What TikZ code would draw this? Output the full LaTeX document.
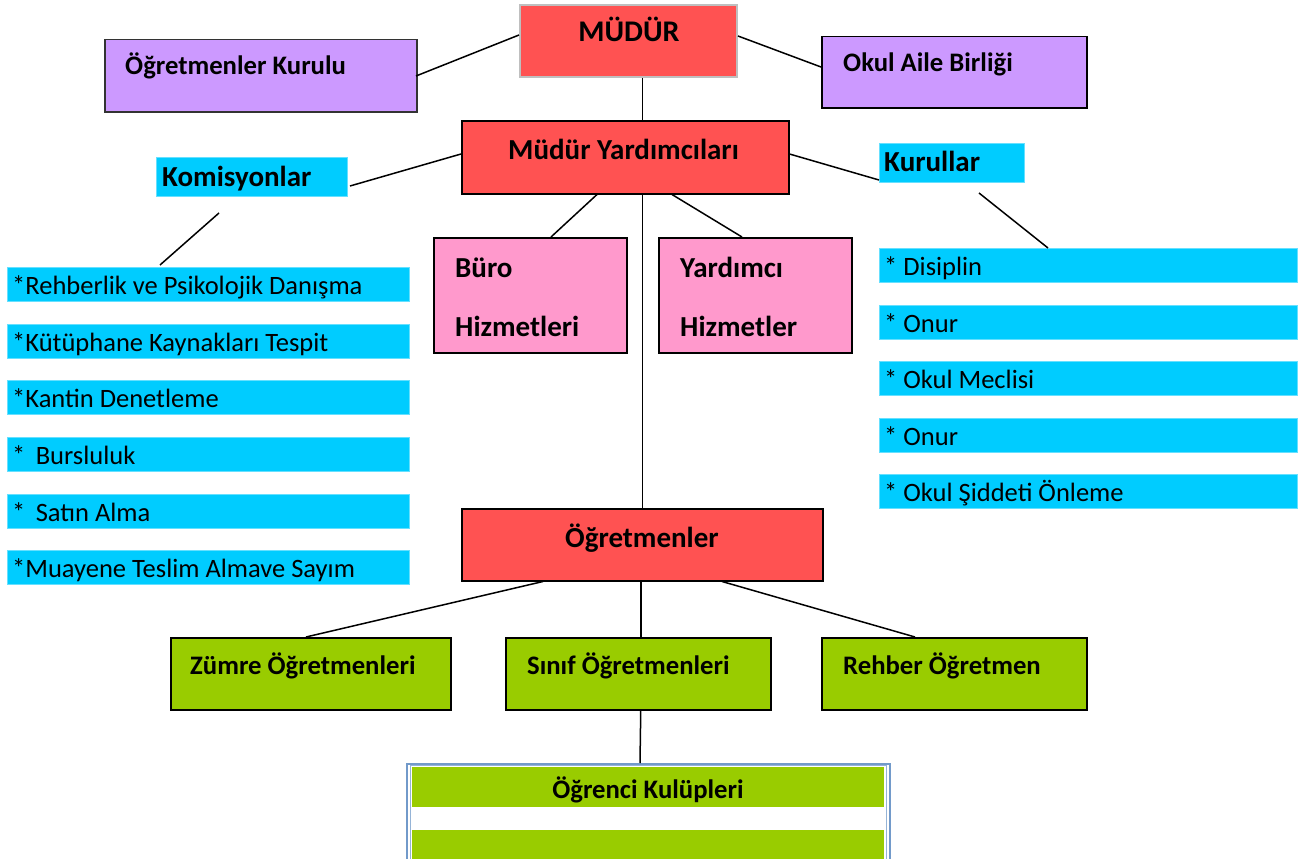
\documentclass[tikz,border=0pt]{standalone}
\usepackage{fontspec}
\setmainfont{Carlito}
\usetikzlibrary{calc}
\definecolor{cred}{HTML}{FF5252}
\definecolor{cpurple}{HTML}{CC99FF}
\definecolor{ccyan}{HTML}{00CCFF}
\definecolor{cpink}{HTML}{FF99CC}
\definecolor{cgreen}{HTML}{99CC00}
\definecolor{cblue}{HTML}{4F81BD}
\definecolor{cgray}{HTML}{BFBFBF}
\tikzset{
  box/.style={rectangle, inner sep=0pt, anchor=north west, line width=1.5pt, draw=black},
  redbox/.style={box, fill=cred},
  purplebox/.style={box, fill=cpurple},
  pinkbox/.style={box, fill=cpink},
  greenbox/.style={box, fill=cgreen},
  cyanbox/.style={rectangle, inner sep=0pt, anchor=north west, fill=ccyan, draw=ccyan!60, line width=0.5pt},
  btxt/.style={anchor=base west, inner sep=0pt, font=\fontsize{26.7}{30}\selectfont\bfseries},
  bigtxt/.style={anchor=base west, inner sep=0pt, font=\fontsize{29}{32}\selectfont\bfseries},
  ltxt/.style={anchor=base west, inner sep=0pt, font=\fontsize{26.5}{30}\selectfont},
  conn/.style={draw=black, line width=1.5pt}
}
\begin{document}
\begin{tikzpicture}[x=1pt,y=-1pt]
\useasboundingbox (0,0) rectangle (1302,859);
\fill[white] (0,0) rectangle (1302,859);
% top level
\node[redbox, draw=cgray, line width=2pt, minimum width=217, minimum height=72] (mudur) at (519,4) {};
\node[bigtxt, font=\fontsize{30}{34}\selectfont\bfseries, anchor=base] (mudurt) at (629,42) {MÜDÜR};
\node[purplebox, draw=black!80, minimum width=312, minimum height=72] (okk) at (104,39) {};
\node[btxt] (okkt) at (125,75) {Öğretmenler Kurulu};
\node[purplebox, minimum width=265, minimum height=71] (oab) at (821,36) {};
\node[btxt] (oabt) at (843,72) {Okul Aile Birliği};
% second level
\node[redbox, minimum width=327, minimum height=73] (my) at (461,120) {};
\node[bigtxt] (myt) at (508,159) {Müdür Yardımcıları};
\node[cyanbox, minimum width=191, minimum height=39] (kom) at (156,157) {};
\node[bigtxt] (komt) at (162,186) {Komisyonlar};
\node[cyanbox, minimum width=145, minimum height=39] (kur) at (879,143) {};
\node[bigtxt] (kurt) at (884,171) {Kurullar};
\node[pinkbox, minimum width=193, minimum height=115] (buro) at (433,237) {};
\node[bigtxt] (burot1) at (455,277) {Büro};
\node[bigtxt] (burot2) at (455,336) {Hizmetleri};
\node[pinkbox, minimum width=193, minimum height=115] (yard) at (658,237) {};
\node[bigtxt] (yardt1) at (680,277) {Yardımcı};
\node[bigtxt] (yardt2) at (680,336) {Hizmetler};
% left list
\node[cyanbox, minimum width=402, minimum height=34] (l1) at (7,267) {};
\node[ltxt] (l1t) at (12,294) {*Rehberlik ve Psikolojik Danışma};
\node[cyanbox, minimum width=402, minimum height=34] (l2) at (7,324) {};
\node[ltxt] (l2t) at (12,351) {*Kütüphane Kaynakları Tespit};
\node[cyanbox, minimum width=402, minimum height=34] (l3) at (7,380) {};
\node[ltxt] (l3t) at (12,407) {*Kantin Denetleme};
\node[cyanbox, minimum width=402, minimum height=34] (l4) at (7,437) {};
\node[ltxt] (l4t) at (12,464) {* \,Bursluluk};
\node[cyanbox, minimum width=402, minimum height=34] (l5) at (7,494) {};
\node[ltxt] (l5t) at (12,521) {* \,Satın Alma};
\node[cyanbox, minimum width=402, minimum height=34] (l6) at (7,550) {};
\node[ltxt] (l6t) at (12,577) {*Muayene Teslim Almave Sayım};
% right list
\node[cyanbox, minimum width=418, minimum height=34] (r1) at (879,248) {};
\node[ltxt] (r1t) at (884,275) {* Disiplin};
\node[cyanbox, minimum width=418, minimum height=34] (r2) at (879,305) {};
\node[ltxt] (r2t) at (884,332) {* Onur};
\node[cyanbox, minimum width=418, minimum height=34] (r3) at (879,361) {};
\node[ltxt] (r3t) at (884,388) {* Okul Meclisi};
\node[cyanbox, minimum width=418, minimum height=34] (r4) at (879,418) {};
\node[ltxt] (r4t) at (884,445) {* Onur};
\node[cyanbox, minimum width=418, minimum height=34] (r5) at (879,474) {};
\node[ltxt] (r5t) at (884,501) {* Okul Şiddeti Önleme};
% teachers
\node[redbox, minimum width=361, minimum height=72] (ogr) at (461,508) {};
\node[bigtxt] (ogrt) at (565,547) {Öğretmenler};
\node[greenbox, minimum width=280, minimum height=72] (zum) at (170,637) {};
\node[btxt] (zumt) at (190,674) {Zümre Öğretmenleri};
\node[greenbox, minimum width=265, minimum height=72] (sin) at (505,637) {};
\node[btxt] (sint) at (527,674) {Sınıf Öğretmenleri};
\node[greenbox, minimum width=265, minimum height=72] (reh) at (821,637) {};
\node[btxt] (reht) at (843,674) {Rehber Öğretmen};
% clubs
\node[rectangle, anchor=north west, inner sep=0pt, draw=cblue!80, line width=1.5pt, fill=white, minimum width=483, minimum height=100] (kul) at (406,763) {};
\fill[cgreen] (412,767) rectangle (884,807);
\fill[white] (412,807) rectangle (884,830);
\fill[cgreen] (412,830) rectangle (884,862);
\draw[cblue!60, line width=0.6pt] (410,765) rectangle (886,862);
\node[btxt, anchor=base] (kult) at (648,798) {Öğrenci Kulüpleri};
% connectors
\coordinate (komA) at (219,213);
\coordinate (komB) at (160,265);
\coordinate (kurA) at (979,193);
\draw[conn] ($(mudur.north west)+(0,31)$) -- ($(okk.north west)+(312,37)$);
\draw[conn] ($(mudur.north east)+(0,32)$) -- ($(oab.north west)+(0,31)$);
\draw[conn] (mudur.south -| ogr.north) -- (my.north -| ogr.north);
\draw[conn] ($(my.north west)+(0,34)$) -- ($(kom.north west)+(194,29)$);
\draw[conn] ($(my.north east)+(0,34)$) -- ($(kur.north west)+(0,37)$);
\draw[conn] (komA) -- (komB);
\draw[conn] (kurA) -- ($(r1.north west)+(169,0)$);
\draw[conn] ($(my.south west)+(136,0)$) -- ($(buro.north west)+(118,0)$);
\draw[conn] ($(my.south west)+(211,0)$) -- ($(yard.north west)+(84,0)$);
\draw[conn] (my.south -| ogr.north) -- (ogr.north);
\draw[conn] ($(ogr.south west)+(82,0)$) -- ($(zum.north west)+(136,0)$);
\draw[conn] ($(sin.north)+(2.5,0)$) -- ($(sin.north)+(2.5,-57)$) coordinate (sinTop);
\draw[conn] ($(ogr.south west)+(261,0)$) -- ($(reh.north west)+(94,0)$);
\draw[conn] ($(sin.south)+(2.5,0)$) -- ($(kul.north west)+(234,0)$);
\end{tikzpicture}
\end{document}
